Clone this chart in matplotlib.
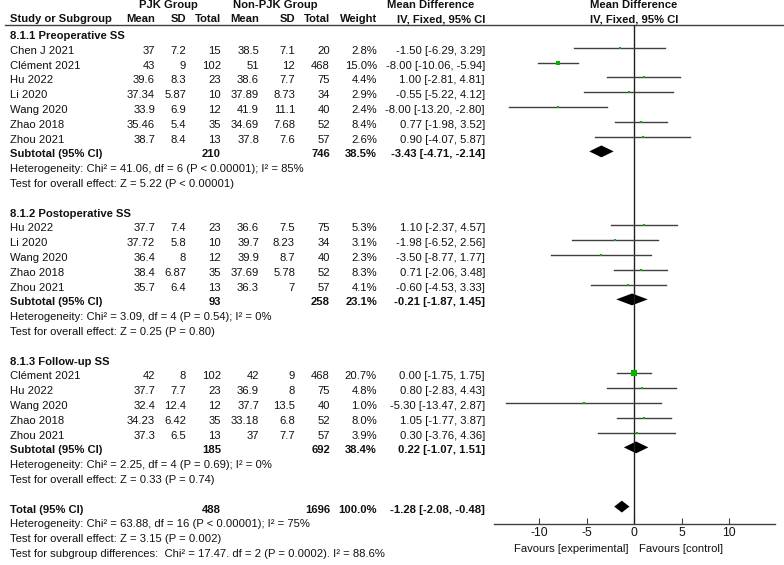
import matplotlib
matplotlib.use("Agg")
import matplotlib.pyplot as plt

plt.rcParams['font.family'] = ['Liberation Sans', 'DejaVu Sans']
plt.rcParams['axes.unicode_minus'] = False

# ---- data ----
pre_study = ["Chen J 2021", "Clément 2021", "Hu 2022", "Li 2020", "Wang 2020", "Zhao 2018", "Zhou 2021"]
pre_m1 = [37, 43, 39.6, 37.34, 33.9, 35.46, 38.7]
pre_sd1 = [7.2, 9, 8.3, 5.87, 6.9, 5.4, 8.4]
pre_n1 = [15, 102, 23, 10, 12, 35, 13]
pre_m2 = [38.5, 51, 38.6, 37.89, 41.9, 34.69, 37.8]
pre_sd2 = [7.1, 12, 7.7, 8.73, 11.1, 7.68, 7.6]
pre_n2 = [20, 468, 75, 34, 40, 52, 57]
pre_w = [2.8, 15.0, 4.4, 2.9, 2.4, 8.4, 2.6]
pre_md = [-1.50, -8.00, 1.00, -0.55, -8.00, 0.77, 0.90]
pre_lo = [-6.29, -10.06, -2.81, -5.22, -13.20, -1.98, -4.07]
pre_hi = [3.29, -5.94, 4.81, 4.12, -2.80, 3.52, 5.87]
pre_sub = [210, 746, 38.5, -3.43, -4.71, -2.14]
pre_het = "Heterogeneity: Chi² = 41.06, df = 6 (P < 0.00001); I² = 85%"
pre_z = "Test for overall effect: Z = 5.22 (P < 0.00001)"

post_study = ["Hu 2022", "Li 2020", "Wang 2020", "Zhao 2018", "Zhou 2021"]
post_m1 = [37.7, 37.72, 36.4, 38.4, 35.7]
post_sd1 = [7.4, 5.8, 8, 6.87, 6.4]
post_n1 = [23, 10, 12, 35, 13]
post_m2 = [36.6, 39.7, 39.9, 37.69, 36.3]
post_sd2 = [7.5, 8.23, 8.7, 5.78, 7]
post_n2 = [75, 34, 40, 52, 57]
post_w = [5.3, 3.1, 2.3, 8.3, 4.1]
post_md = [1.10, -1.98, -3.50, 0.71, -0.60]
post_lo = [-2.37, -6.52, -8.77, -2.06, -4.53]
post_hi = [4.57, 2.56, 1.77, 3.48, 3.33]
post_sub = [93, 258, 23.1, -0.21, -1.87, 1.45]
post_het = "Heterogeneity: Chi² = 3.09, df = 4 (P = 0.54); I² = 0%"
post_z = "Test for overall effect: Z = 0.25 (P = 0.80)"

fu_study = ["Clément 2021", "Hu 2022", "Wang 2020", "Zhao 2018", "Zhou 2021"]
fu_m1 = [42, 37.7, 32.4, 34.23, 37.3]
fu_sd1 = [8, 7.7, 12.4, 6.42, 6.5]
fu_n1 = [102, 23, 12, 35, 13]
fu_m2 = [42, 36.9, 37.7, 33.18, 37]
fu_sd2 = [9, 8, 13.5, 6.8, 7.7]
fu_n2 = [468, 75, 40, 52, 57]
fu_w = [20.7, 4.8, 1.0, 8.0, 3.9]
fu_md = [0.00, 0.80, -5.30, 1.05, 0.30]
fu_lo = [-1.75, -2.83, -13.47, -1.77, -3.76]
fu_hi = [1.75, 4.43, 2.87, 3.87, 4.36]
fu_sub = [185, 692, 38.4, 0.22, -1.07, 1.51]
fu_het = "Heterogeneity: Chi² = 2.25, df = 4 (P = 0.69); I² = 0%"
fu_z = "Test for overall effect: Z = 0.33 (P = 0.74)"

total = [488, 1696, 100.0, -1.28, -2.08, -0.48]
total_het = "Heterogeneity: Chi² = 63.88, df = 16 (P < 0.00001); I² = 75%"
total_z = "Test for overall effect: Z = 3.15 (P = 0.002)"
subgroup_txt = "Test for subgroup differences:  Chi² = 17.47. df = 2 (P = 0.0002). I² = 88.6%"

sections = [
    ("8.1.1 Preoperative SS", pre_study, pre_m1, pre_sd1, pre_n1, pre_m2, pre_sd2, pre_n2,
     pre_w, pre_md, pre_lo, pre_hi, pre_sub, pre_het, pre_z),
    ("8.1.2 Postoperative SS", post_study, post_m1, post_sd1, post_n1, post_m2, post_sd2, post_n2,
     post_w, post_md, post_lo, post_hi, post_sub, post_het, post_z),
    ("8.1.3 Follow-up SS", fu_study, fu_m1, fu_sd1, fu_n1, fu_m2, fu_sd2, fu_n2,
     fu_w, fu_md, fu_lo, fu_hi, fu_sub, fu_het, fu_z),
]
xticks = [-10, -5, 0, 5, 10]

# ---- layout ----
W, H = 784, 565
FS = 8.1
row0 = 36.0      # pixel centre of first row text
dy = 14.8        # pixel step per row
mark_off = -3.0  # marks sit a bit above text centre
col_x = [155, 186, 221, 259, 295, 330, 377]   # right edges of number columns
ci_x = 485
name_x = 10
line_col = '#404040'
green = '#00b400'
tcol = '#111111'

fig = plt.figure(figsize=(W / 100, H / 100), dpi=100)
tab = fig.add_axes([0, 0, 1, 1])
tab.set_xlim(0, W)
tab.set_ylim(H, 0)
tab.axis('off')

ax_left, ax_right, ax_top, ax_bot = 494, 775, 25, 524
ax = fig.add_axes([ax_left / W, (H - ax_bot) / H, (ax_right - ax_left) / W, (ax_bot - ax_top) / H])
ax.patch.set_alpha(0)
ax.set_xlim((ax_left - 634) / 9.5, (ax_right - 634) / 9.5)
ax.set_ylim((ax_bot - row0 - mark_off) / dy, (ax_top - row0 - mark_off) / dy)
for s in ['top', 'left', 'right']:
    ax.spines[s].set_visible(False)
ax.spines['bottom'].set_color(line_col)
ax.spines['bottom'].set_linewidth(1)
ax.set_yticks([])
ax.set_xticks(xticks)
ax.tick_params(axis='x', direction='in', length=4, color=line_col, labelsize=8.8, pad=2,
               labelcolor=tcol)
ax.axvline(0, color='#202020', lw=1)


def ypx(r):
    return row0 + dy * r


def txt(x, r, s, ha='left', bold=False):
    tab.text(x, ypx(r), s, ha=ha, va='center', fontsize=FS,
             fontweight='bold' if bold else 'normal', color=tcol)


def head(x, y, s, ha='center'):
    tab.text(x, y, s, ha=ha, va='center', fontsize=FS, fontweight='bold', color=tcol)


def fmt(v):
    return f"{v:g}"


def ci_str(md, lo, hi):
    return f"{md:.2f} [{lo:.2f}, {hi:.2f}]"


def diamond(r, md, lo, hi):
    h = 0.4
    ax.fill([lo, md, hi, md], [r, r - h, r, r + h], color='black', lw=0)


# headers
head(168, 5, "PJK Group")
head(275, 5, "Non-PJK Group")
head(431, 5, "Mean Difference")
head(634, 5, "Mean Difference")
head(ci_x, 19, "IV, Fixed, 95% CI", ha='right')
head(634, 19, "IV, Fixed, 95% CI")
head(name_x, 19, "Study or Subgroup", ha='left')
for x, h in zip(col_x, ["Mean", "SD", "Total", "Mean", "SD", "Total", "Weight"]):
    head(x, 19, h, ha='right')
tab.plot([5, W], [25, 25], color=line_col, lw=1)

r = 0
for sec in sections:
    (title, study, m1, sd1, n1, m2, sd2, n2, w, md, lo, hi, sub, het, z) = sec
    txt(name_x, r, title, bold=True)
    r += 1
    for i in range(len(study)):
        txt(name_x, r, study[i])
        vals = [fmt(m1[i]), fmt(sd1[i]), str(n1[i]), fmt(m2[i]), fmt(sd2[i]), str(n2[i]), f"{w[i]:.1f}%"]
        for x, v in zip(col_x, vals):
            txt(x, r, v, ha='right')
        txt(ci_x, r, ci_str(md[i], lo[i], hi[i]), ha='right')
        ax.plot([lo[i], hi[i]], [r, r], color=line_col, lw=1)
        ax.plot(md[i], r, marker='s', color=green, ms=max(2.0, 0.27 * w[i]) * 0.72, mew=0)
        r += 1
    txt(name_x, r, "Subtotal (95% CI)", bold=True)
    txt(col_x[2], r, str(sub[0]), ha='right', bold=True)
    txt(col_x[5], r, str(sub[1]), ha='right', bold=True)
    txt(col_x[6], r, f"{sub[2]:.1f}%", ha='right', bold=True)
    txt(ci_x, r, ci_str(sub[3], sub[4], sub[5]), ha='right', bold=True)
    diamond(r, sub[3], sub[4], sub[5])
    r += 1
    txt(name_x, r, het)
    r += 1
    txt(name_x, r, z)
    r += 2

txt(name_x, r, "Total (95% CI)", bold=True)
txt(col_x[2], r, str(total[0]), ha='right', bold=True)
txt(col_x[5], r, str(total[1]), ha='right', bold=True)
txt(col_x[6], r, f"{total[2]:.1f}%", ha='right', bold=True)
txt(ci_x, r, ci_str(total[3], total[4], total[5]), ha='right', bold=True)
diamond(r, total[3], total[4], total[5])
txt(name_x, r + 1, total_het)
txt(name_x, r + 2, total_z)
txt(name_x, r + 3, subgroup_txt)

tab.text(629, 549, "Favours [experimental]", ha='right', va='center', fontsize=FS, color=tcol)
tab.text(639, 549, "Favours [control]", ha='left', va='center', fontsize=FS, color=tcol)

fig.savefig("out.png", dpi=100)
